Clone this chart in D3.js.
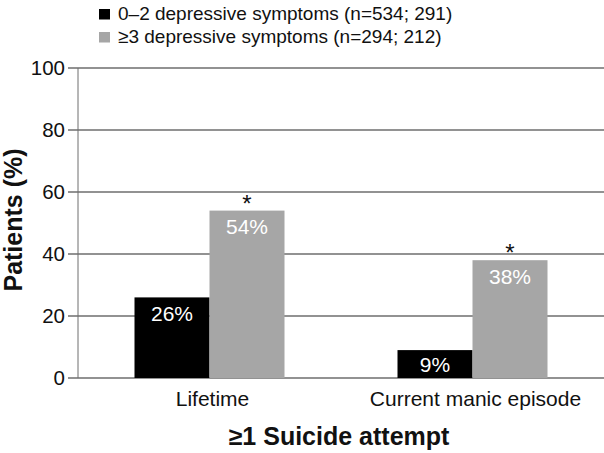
<!DOCTYPE html>
<html><head><meta charset="utf-8">
<script src="https://cdn.jsdelivr.net/npm/d3@7"></script>
<style>body{margin:0;background:#fff}svg{display:block;font-family:"Liberation Sans",Arial,sans-serif}</style>
</head><body><svg id="c" width="604" height="453"></svg>
<script>
const categories = ["Lifetime", "Current manic episode"];
const seriesNames = ["0\u20132 depressive symptoms (n=534; 291)", "\u22653 depressive symptoms (n=294; 212)"];
const lowSymptoms = [26, 9];
const highSymptoms = [54, 38];
const significant = [true, true];
const yTicks = [0, 20, 40, 60, 80, 100];
const colors = ["#000000", "#a6a6a6"];

const svg = d3.select("#c");
const mLeft = 78, mRight = 604, mTop = 68, mBottom = 378;
const x = d3.scaleBand().domain(categories).range([mLeft, mRight]).padding(0);
const xi = d3.scaleBand().domain([0, 1]).range([56.5, 206.5]).padding(0);
const y = d3.scaleLinear().domain([0, 100]).range([mBottom, mTop]);

// gridlines
svg.append("g").selectAll("line").data(yTicks).join("line")
  .attr("x1", mLeft - 10).attr("x2", mRight).attr("y1", d => y(d)).attr("y2", d => y(d))
  .attr("stroke", "#6e6e6e").attr("stroke-width", 1.4);
// y axis line
svg.append("line").attr("x1", mLeft).attr("x2", mLeft).attr("y1", y(100)).attr("y2", y(0))
  .attr("stroke", "#6e6e6e").attr("stroke-width", 1);
// tick labels
svg.append("g").selectAll("text").data(yTicks).join("text")
  .attr("x", mLeft - 13).attr("y", d => y(d)).attr("dy", "0.36em")
  .attr("text-anchor", "end").attr("font-size", 20.5).attr("fill", "#111").text(d => d);

const rows = [];
categories.forEach((c, i) => {
  rows.push({c, s: 0, v: lowSymptoms[i], star: false});
  rows.push({c, s: 1, v: highSymptoms[i], star: significant[i]});
});
const g = svg.append("g");
g.selectAll("rect").data(rows).join("rect")
  .attr("x", d => x(d.c) + xi(d.s)).attr("width", xi.bandwidth())
  .attr("y", d => y(d.v)).attr("height", d => y(0) - y(d.v))
  .attr("fill", d => colors[d.s]);
g.selectAll("text.v").data(rows).join("text").attr("class", "v")
  .attr("x", d => x(d.c) + xi(d.s) + xi.bandwidth() / 2)
  .attr("y", d => Math.min(y(d.v) + 23.5, y(0) - 6.3))
  .attr("text-anchor", "middle").attr("font-size", 21).attr("fill", "#fff")
  .text(d => d.v + "%");
g.selectAll("text.s").data(rows.filter(d => d.star)).join("text").attr("class", "s")
  .attr("x", d => x(d.c) + xi(d.s) + xi.bandwidth() / 2)
  .attr("y", d => y(d.v) + 1)
  .attr("text-anchor", "middle").attr("font-size", 24).attr("fill", "#111").text("*");

// x labels
svg.append("g").selectAll("text").data(categories).join("text")
  .attr("x", d => x(d) + x.bandwidth() / 2 + 3).attr("y", 406)
  .attr("text-anchor", "middle").attr("font-size", 21).attr("fill", "#111").text(d => d);

svg.append("text").attr("x", 339).attr("y", 445).attr("text-anchor", "middle")
  .attr("font-size", 25).attr("font-weight", "bold").attr("fill", "#111").text("\u22651 Suicide attempt");
svg.append("text").attr("transform", "translate(21.5,220) rotate(-90)").attr("text-anchor", "middle")
  .attr("font-size", 25).attr("font-weight", "bold").attr("fill", "#111").text("Patients (%)");

// legend
const lg = svg.append("g");
seriesNames.forEach((n, i) => {
  lg.append("rect").attr("x", 99).attr("y", 9 + i * 23).attr("width", 11).attr("height", 10.5).attr("fill", colors[i]);
  lg.append("text").attr("x", 118).attr("y", 19.5 + i * 23).attr("font-size", 19).attr("fill", "#111").text(n);
});
</script></body></html>
